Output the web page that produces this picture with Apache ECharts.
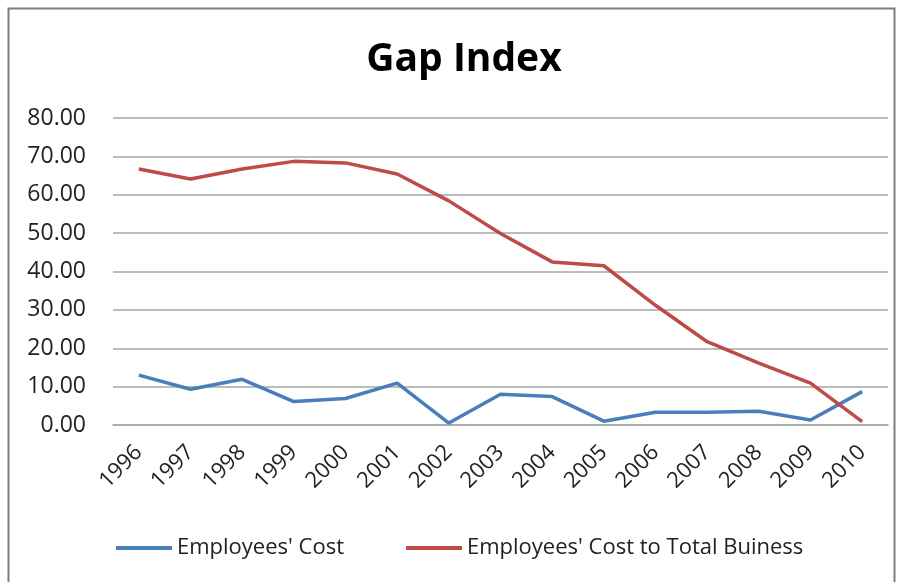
<!DOCTYPE html>
<html>
<head>
<meta charset="utf-8">
<style>
html,body{margin:0;padding:0;background:#fff;}
#c{width:904px;height:582px;}
</style>
<script src="https://cdn.jsdelivr.net/npm/echarts@6/dist/echarts.min.js"></script>
</head>
<body>
<div id="c"></div>
<script>
var years = ['1996','1997','1998','1999','2000','2001','2002','2003','2004','2005','2006','2007','2008','2009','2010'];
var employeesCost = [13.0, 9.3, 11.9, 6.1, 6.9, 10.9, 0.5, 8.0, 7.4, 1.0, 3.3, 3.3, 3.6, 1.3, 8.7];
var costToTotal = [66.7, 64.1, 66.7, 68.7, 68.3, 65.4, 58.4, 49.9, 42.5, 41.5, 31.2, 21.7, 16.1, 10.9, 0.9];
var seriesNames = ["Employees' Cost", "Employees' Cost to Total Buiness"];
var titleText = 'Gap Index';

var font = '"Open Sans", "Noto Sans", sans-serif';
var chart = echarts.init(document.getElementById('c'));
chart.setOption({
  animation: false,
  backgroundColor: '#fff',
  title: {
    text: titleText, left: 459, top: 35, textAlign: 'center',
    textStyle: {fontFamily: font, fontSize: 39, fontWeight: 'bold', color: '#000'}
  },
  graphic: [{
    type: 'rect', shape: {x: 8.5, y: 8.5, width: 886, height: 600},
    style: {fill: 'none', stroke: '#7f7f7f', lineWidth: 2}, silent: true
  }],
  legend: {
    left: 111, top: 532,
    itemWidth: 56, itemHeight: 4, itemGap: 62, icon: 'rect',
    textStyle: {fontFamily: font, fontSize: 22, color: '#222'},
    data: seriesNames
  },
  grid: {left: 113, right: 16, top: 118, bottom: 157},
  xAxis: {
    type: 'category', data: years, boundaryGap: true,
    axisLine: {show: true, lineStyle: {color: '#a6a6a6', width: 1.5}},
    axisTick: {show: false},
    axisLabel: {rotate: 45, margin: 24, fontFamily: font, fontSize: 22, color: '#222', interval: 0}
  },
  yAxis: {
    type: 'value', min: 0, max: 80, interval: 10,
    axisLine: {show: false}, axisTick: {show: false},
    splitLine: {lineStyle: {color: '#a6a6a6', width: 1.5}},
    axisLabel: {margin: 27, fontFamily: font, fontSize: 23, color: '#222',
      formatter: function (v) { return v.toFixed(2); }}
  },
  series: [
    {name: seriesNames[0], type: 'line', data: employeesCost, showSymbol: false, symbol: 'none',
     lineStyle: {color: '#4a7ebb', width: 3.5}, itemStyle: {color: '#4a7ebb'}},
    {name: seriesNames[1], type: 'line', data: costToTotal, showSymbol: false, symbol: 'none',
     lineStyle: {color: '#be4b48', width: 3.5}, itemStyle: {color: '#be4b48'}}
  ]
});
</script>
</body>
</html>
